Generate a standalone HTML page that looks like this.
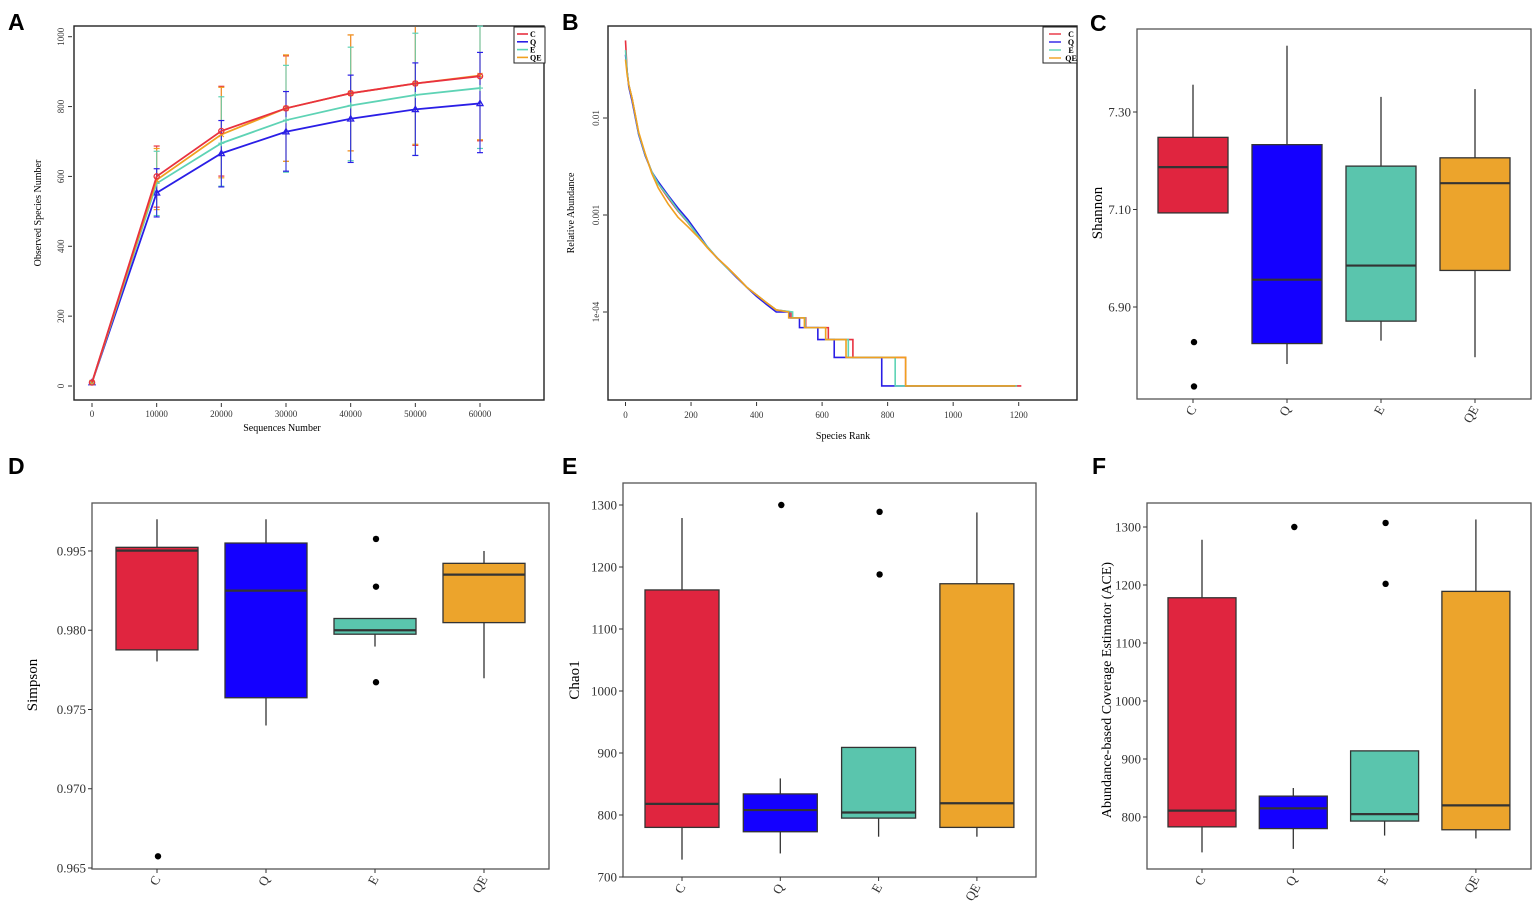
<!DOCTYPE html>
<html><head><meta charset="utf-8">
<style>
html,body{margin:0;padding:0;background:#fff;}
svg{display:block;font-family:"Liberation Serif",serif;}
.plab{font-family:"Liberation Sans",sans-serif;font-weight:bold;font-size:23px;fill:#000;}
</style></head>
<body>
<svg id="fig" width="1535" height="905" viewBox="0 0 1535 905" xmlns="http://www.w3.org/2000/svg">
<text class="plab" x="8" y="30">A</text>
<text class="plab" x="562" y="30">B</text>
<text class="plab" x="1090" y="31">C</text>
<text class="plab" x="8" y="474">D</text>
<text class="plab" x="562" y="474">E</text>
<text class="plab" x="1092" y="474">F</text>
</svg>
<script>
// ---------- data ----------
const groups = ['C','Q','E','QE'];
// Panel A rarefaction
const seqDepths = [0,10000,20000,30000,40000,50000,60000];
const rareC  = [10,600,730,795,838,866,887];
const rareQ  = [10,553,666,728,765,792,809];
const rareE  = [10,580,695,761,803,833,853];
const rareQE = [10,590,720,795,838,866,889];
const rareUpC  = [10,687,858,945,1005,1060,1075];
const rareLoC  = [10,512,601,643,673,689,702];
const rareUpQ  = [10,622,760,843,890,925,955];
const rareLoQ  = [10,484,570,615,640,660,668];
const rareUpE  = [10,672,828,918,970,1010,1030];
const rareLoE  = [10,488,572,612,645,660,680];
const rareUpQE = [10,680,855,948,1005,1040,1050];
const rareLoQE = [10,505,596,643,673,692,705];
const rareXTicks = [0,10000,20000,30000,40000,50000,60000];
const rareYTicks = [0,200,400,600,800,1000];
// Panel B rank abundance
const headRanks = [0,5,10,20,40,60,80,100,130,160,190,220,250,280,310,340,370,400,430,460];
const rankC  = [0.063,0.03,0.022,0.016,0.0070,0.0042,0.0028,0.0021,0.0015,0.0011,8.4e-4,6.2e-4,4.6e-4,3.6e-4,2.9e-4,2.3e-4,1.8e-4,1.5e-4,1.25e-4,1.05e-4];
const rankQ  = [0.045,0.03,0.021,0.015,0.0068,0.0041,0.0028,0.0022,0.0016,0.00118,9.0e-4,6.5e-4,4.7e-4,3.6e-4,2.85e-4,2.25e-4,1.8e-4,1.45e-4,1.2e-4,1.0e-4];
const rankE  = [0.05,0.03,0.022,0.016,0.0070,0.0042,0.0028,0.0021,0.00155,0.00112,8.5e-4,6.2e-4,4.7e-4,3.6e-4,2.85e-4,2.3e-4,1.8e-4,1.5e-4,1.25e-4,1.05e-4];
const rankQE = [0.04,0.028,0.022,0.016,0.0072,0.0043,0.0027,0.0019,0.0013,9.5e-4,7.6e-4,6.0e-4,4.6e-4,3.6e-4,2.9e-4,2.3e-4,1.8e-4,1.5e-4,1.25e-4,1.05e-4];
const stepLevels = [1.0e-4,8.7e-5,6.9e-5,5.2e-5,3.4e-5,1.73e-5];
const stepsC  = [505,550,619,694,855];
const stepsQ  = [500,531,587,637,782];
const stepsE  = [510,548,611,680,823];
const stepsQE = [498,546,611,673,855];
const rankEnd = [1208,1190,1195,1190];
const rankXTicks = [0,200,400,600,800,1000,1200];
const rankYTicks = [0.01,0.001,0.0001];
const rankYLabels = ['0.01','0.001','1e-04'];
// Panel C Shannon
const shLow = [7.093,6.783,6.831,6.797];
const shQ1  = [7.093,6.825,6.871,6.975];
const shMed = [7.187,6.956,6.985,7.154];
const shQ3  = [7.248,7.233,7.189,7.206];
const shHigh= [7.356,7.436,7.331,7.347];
const shOut = [[6.828,6.737],[],[],[]];
const shTicks = [6.90,7.10,7.30];
const shTickLabels = ['6.90','7.10','7.30'];
// Panel D Simpson (axis positions as printed)
const siLow = [0.97803,0.97399,0.97897,0.97697];
const siQ1  = [0.97876,0.97574,0.97975,0.98048];
const siMed = [0.98502,0.98250,0.98000,0.98351];
const siQ3  = [0.98523,0.98550,0.98074,0.98422];
const siHigh= [0.98700,0.98700,0.98074,0.98500];
const siOut = [[0.96574],[],[0.98576,0.98275,0.97672],[]];
const siTicks = [0.965,0.970,0.975,0.980,0.985];
const siTickLabels = ['0.965','0.970','0.975','0.980','0.995'];
// Panel E Chao1
const chLow = [728,738,765,765];
const chQ1  = [780,773,795,780];
const chMed = [818,808,804,819];
const chQ3  = [1163,834,909,1173];
const chHigh= [1279,859,909,1288];
const chOut = [[],[1300],[1289,1188],[]];
const chTicks = [700,800,900,1000,1100,1200,1300];
// Panel F ACE
const acLow = [739,745,768,763];
const acQ1  = [783,780,793,778];
const acMed = [811,815,805,820];
const acQ3  = [1178,836,914,1189];
const acHigh= [1278,850,914,1313];
const acOut = [[],[1300],[1307,1202],[]];
const acTicks = [800,900,1000,1100,1200,1300];

// ---------- helpers ----------
const NS = 'http://www.w3.org/2000/svg';
const svg = document.getElementById('fig');
function mk(tag, attrs, name, parent){
  const e = document.createElementNS(NS, tag);
  for (const k in attrs) e.setAttribute(k, attrs[k]);
  
  
  (parent||svg).appendChild(e);
  return e;
}
function txt(str, attrs, name, parent){
  const e = mk('text', attrs, name, parent);
  e.textContent = str;
  return e;
}
function lin(d0,d1,r0,r1){ return v => r0 + (v-d0)/(d1-d0)*(r1-r0); }

// ---------- Panel A ----------
(function(){
  const g = mk('g', {}, 'rarefaction-chart');
  const L=74,R=544,T=26,B=400;
  const x = lin(0,60000,92,480);
  const y = lin(0,1000,386,36.7);
  mk('rect',{x:L,y:T,width:R-L,height:B-T,fill:'none',stroke:'#222','stroke-width':1.4},'plot-frame',g);
  rareXTicks.forEach(t=>{
    mk('line',{x1:x(t),x2:x(t),y1:B+3,y2:B+7,stroke:'#333'},'x-tick',g);
    txt(String(t),{x:x(t),y:B+17,'font-size':9,'text-anchor':'middle',fill:'#333'},'x-tick-label',g);
  });
  rareYTicks.forEach(t=>{
    mk('line',{x1:L-6,x2:L-2,y1:y(t),y2:y(t),stroke:'#333'},'y-tick',g);
    txt(String(t),{x:0,y:0,'font-size':9,'text-anchor':'middle',fill:'#333',transform:`translate(${L-10},${y(t)}) rotate(-90)`},'y-tick-label',g);
  });
  txt('Sequences Number',{x:282,y:431,'font-size':10,'text-anchor':'middle'},'x-axis-title',g);
  txt('Observed Species Number',{x:0,y:0,'font-size':10,'text-anchor':'middle',transform:'translate(41,213) rotate(-90)'},'y-axis-title',g);
  const series=[
    {n:'C',v:rareC,u:rareUpC,l:rareLoC,c:'#e8313f',m:'circle'},
    {n:'QE',v:rareQE,u:rareUpQE,l:rareLoQE,c:'#f0a020',m:'x'},
    {n:'E',v:rareE,u:rareUpE,l:rareLoE,c:'#5ed3b5',m:'plus'},
    {n:'Q',v:rareQ,u:rareUpQ,l:rareLoQ,c:'#2a1ee6',m:'tri'}];
  series.forEach(s=>{
    seqDepths.forEach((d,i)=>{
      if(i===0) return;
      const top=Math.max(y(s.u[i]),T+1);
      mk('line',{x1:x(d),x2:x(d),y1:top,y2:y(s.l[i]),stroke:s.c,'stroke-width':1.1,opacity:0.9},'error-bar-'+s.n,g);
      if(y(s.u[i])>T) mk('line',{x1:x(d)-3,x2:x(d)+3,y1:y(s.u[i]),y2:y(s.u[i]),stroke:s.c,'stroke-width':1.2},'error-cap-'+s.n,g);
      mk('line',{x1:x(d)-3,x2:x(d)+3,y1:y(s.l[i]),y2:y(s.l[i]),stroke:s.c,'stroke-width':1.2},'error-cap-'+s.n,g);
    });
  });
  series.slice().reverse().forEach(s=>{
    const pts = seqDepths.map((d,i)=>x(d)+','+y(s.v[i])).join(' ');
    mk('polyline',{points:pts,fill:'none',stroke:s.c,'stroke-width':1.8},'rarefaction-line-'+s.n,g);
    seqDepths.forEach((d,i)=>{
      const cx=x(d), cy=y(s.v[i]);
      if(s.m==='circle') mk('circle',{cx,cy,r:2.6,fill:'none',stroke:s.c,'stroke-width':1.3},'point-'+s.n,g);
      else if(s.m==='tri') mk('polygon',{points:`${cx},${cy-3} ${cx-3},${cy+2.2} ${cx+3},${cy+2.2}`,fill:'none',stroke:s.c,'stroke-width':1.3},'point-'+s.n,g);
      else if(s.m==='plus') mk('path',{d:`M${cx-3},${cy}H${cx+3}M${cx},${cy-3}V${cy+3}`,stroke:s.c,'stroke-width':1.2},'point-'+s.n,g);
      else mk('path',{d:`M${cx-2.5},${cy-2.5}L${cx+2.5},${cy+2.5}M${cx-2.5},${cy+2.5}L${cx+2.5},${cy-2.5}`,stroke:s.c,'stroke-width':1.2},'point-'+s.n,g);
    });
  });
  const lg = mk('g',{},'legend',g);
  mk('rect',{x:514,y:27,width:31,height:36,fill:'#fff',stroke:'#222','stroke-width':1},'legend-box',lg);
  [['C','#e8313f'],['Q','#2a1ee6'],['E','#5ed3b5'],['QE','#f0a020']].forEach((e,i)=>{
    const yy=34+i*7.8;
    mk('line',{x1:517,x2:528,y1:yy,y2:yy,stroke:e[1],'stroke-width':1.6},'legend-swatch-'+e[0],lg);
    txt(e[0],{x:530,y:yy+3,'font-size':8,'font-weight':'bold'},'legend-label-'+e[0],lg);
  });
})();

// ---------- Panel B ----------
(function(){
  const g = mk('g', {}, 'rank-abundance-chart');
  const L=608,R=1077,T=26,B=400;
  const x = lin(0,1200,625.5,1018.7);
  const y = v => 118 + (-2 - Math.log10(v))*97;
  mk('rect',{x:L,y:T,width:R-L,height:B-T,fill:'none',stroke:'#222','stroke-width':1.4},'plot-frame',g);
  rankXTicks.forEach(t=>{
    mk('line',{x1:x(t),x2:x(t),y1:B+2,y2:B+6,stroke:'#333'},'x-tick',g);
    txt(String(t),{x:x(t),y:B+18,'font-size':9,'text-anchor':'middle',fill:'#333'},'x-tick-label',g);
  });
  rankYTicks.forEach((t,i)=>{
    mk('line',{x1:L-5,x2:L-1,y1:y(t),y2:y(t),stroke:'#333'},'y-tick',g);
    txt(rankYLabels[i],{x:0,y:0,'font-size':9,'text-anchor':'middle',fill:'#333',transform:`translate(${L-9},${y(t)}) rotate(-90)`},'y-tick-label',g);
  });
  txt('Species Rank',{x:843,y:439,'font-size':10,'text-anchor':'middle'},'x-axis-title',g);
  txt('Relative Abundance',{x:0,y:0,'font-size':10,'text-anchor':'middle',transform:'translate(574,213) rotate(-90)'},'y-axis-title',g);
  const series=[
    {n:'C',h:rankC,s:stepsC,e:rankEnd[0],c:'#e8313f'},
    {n:'Q',h:rankQ,s:stepsQ,e:rankEnd[1],c:'#2a1ee6'},
    {n:'E',h:rankE,s:stepsE,e:rankEnd[2],c:'#5ed3b5'},
    {n:'QE',h:rankQE,s:stepsQE,e:rankEnd[3],c:'#f0a020'}];
  series.forEach(s=>{
    let d = headRanks.map((r,i)=>(i?'L':'M')+x(r)+','+y(s.h[i])).join('');
    d += 'L'+x(s.s[0])+','+y(stepLevels[0]);
    s.s.forEach((r,i)=>{
      d += 'L'+x(r)+','+y(stepLevels[i]) + 'L'+x(r)+','+y(stepLevels[i+1]);
      const nxt = i+1<s.s.length ? s.s[i+1] : s.e;
      d += 'L'+x(nxt)+','+y(stepLevels[i+1]);
    });
    mk('path',{d,fill:'none',stroke:s.c,'stroke-width':1.6},'rank-curve-'+s.n,g);
  });
  const lg = mk('g',{},'legend',g);
  mk('rect',{x:1043,y:27,width:34,height:36,fill:'#fff',stroke:'#222','stroke-width':1},'legend-box',lg);
  [['C','#e8313f'],['Q','#2a1ee6'],['E','#5ed3b5'],['QE','#f0a020']].forEach((e,i)=>{
    const yy=34+i*8;
    mk('line',{x1:1049,x2:1061,y1:yy,y2:yy,stroke:e[1],'stroke-width':1.4},'legend-swatch-'+e[0],lg);
    txt(e[0],{x:1071,y:yy+3,'font-size':8,'font-weight':'bold','text-anchor':'middle'},'legend-label-'+e[0],lg);
  });
})();

// ---------- Box plots ----------
const fills = ['#e0253f','#1400ff','#5ac5ad','#eca42c'];
function boxPanel(cfg){
  const g = mk('g',{}, cfg.name);
  const y = lin(cfg.d0,cfg.d1,cfg.B,cfg.T);
  mk('rect',{x:cfg.L,y:cfg.T,width:cfg.R-cfg.L,height:cfg.B-cfg.T,fill:'#fff',stroke:'#555','stroke-width':1.3},'plot-frame',g);
  cfg.ticks.forEach((t,i)=>{
    mk('line',{x1:cfg.L-4,x2:cfg.L,y1:y(t),y2:y(t),stroke:'#333','stroke-width':1},'y-tick',g);
    txt(cfg.labels[i],{x:cfg.L-6,y:y(t)+4.5,'font-size':13,'text-anchor':'end',fill:'#333'},'y-tick-label',g);
  });
  txt(cfg.title,{x:0,y:0,'font-size':cfg.tsize||15,'text-anchor':'middle',transform:`translate(${cfg.tx},${cfg.ty}) rotate(-90)`},'y-axis-title',g);
  groups.forEach((gr,i)=>{
    const cx = cfg.c0 + i*cfg.step, w=cfg.w;
    mk('line',{x1:cx,x2:cx,y1:cfg.B,y2:cfg.B+4,stroke:'#333'},'x-tick',g);
    txt(gr,{x:0,y:0,'font-size':13,'text-anchor':'end',fill:'#333',transform:`translate(${cx+4},${cfg.B+10}) rotate(-60)`},'x-tick-label',g);
    mk('line',{x1:cx,x2:cx,y1:y(cfg.high[i]),y2:y(cfg.q3[i]),stroke:'#333','stroke-width':1.3},'whisker-upper-'+gr,g);
    mk('line',{x1:cx,x2:cx,y1:y(cfg.q1[i]),y2:y(cfg.low[i]),stroke:'#333','stroke-width':1.3},'whisker-lower-'+gr,g);
    mk('rect',{x:cx-w/2,y:y(cfg.q3[i]),width:w,height:y(cfg.q1[i])-y(cfg.q3[i]),fill:fills[i],stroke:'#333','stroke-width':1.3},'box-'+gr,g);
    mk('line',{x1:cx-w/2,x2:cx+w/2,y1:y(cfg.med[i]),y2:y(cfg.med[i]),stroke:'#333','stroke-width':2.2},'median-'+gr,g);
    cfg.out[i].forEach(o=>{
      mk('circle',{cx:cx+1,cy:y(o),r:3.2,fill:'#000'},'outlier-'+gr,g);
    });
  });
}
boxPanel({name:'shannon-chart',L:1137,R:1531,T:29,B:399,d0:6.90-(399-307)/487.5,d1:7.30+(112-29)/487.5,ticks:shTicks,labels:shTickLabels,
  low:shLow,q1:shQ1,med:shMed,q3:shQ3,high:shHigh,out:shOut,title:'Shannon',tx:1102,ty:213,c0:1193,step:94,w:70});
boxPanel({name:'simpson-chart',L:92,R:549,T:503,B:869,d0:0.965-(869-868)/15860,d1:0.985+(551-503)/15860,ticks:siTicks,labels:siTickLabels,
  low:siLow,q1:siQ1,med:siMed,q3:siQ3,high:siHigh,out:siOut,title:'Simpson',tx:37,ty:685,c0:157,step:109,w:82});
boxPanel({name:'chao1-chart',L:623,R:1036,T:483,B:877,d0:700,d1:700+(877-483)/0.62,ticks:chTicks,labels:chTicks.map(String),
  low:chLow,q1:chQ1,med:chMed,q3:chQ3,high:chHigh,out:chOut,title:'Chao1',tx:579,ty:680,c0:682,step:98.3,w:74});
boxPanel({name:'ace-chart',L:1147,R:1531,T:503,B:869,d0:800-(869-817)/0.58,d1:800+(817-503)/0.58,ticks:acTicks,labels:acTicks.map(String),
  low:acLow,q1:acQ1,med:acMed,q3:acQ3,high:acHigh,out:acOut,title:'Abundance-based Coverage Estimator (ACE)',tsize:14,tx:1111,ty:690,c0:1202,step:91.3,w:68});
</script>
</body></html>
